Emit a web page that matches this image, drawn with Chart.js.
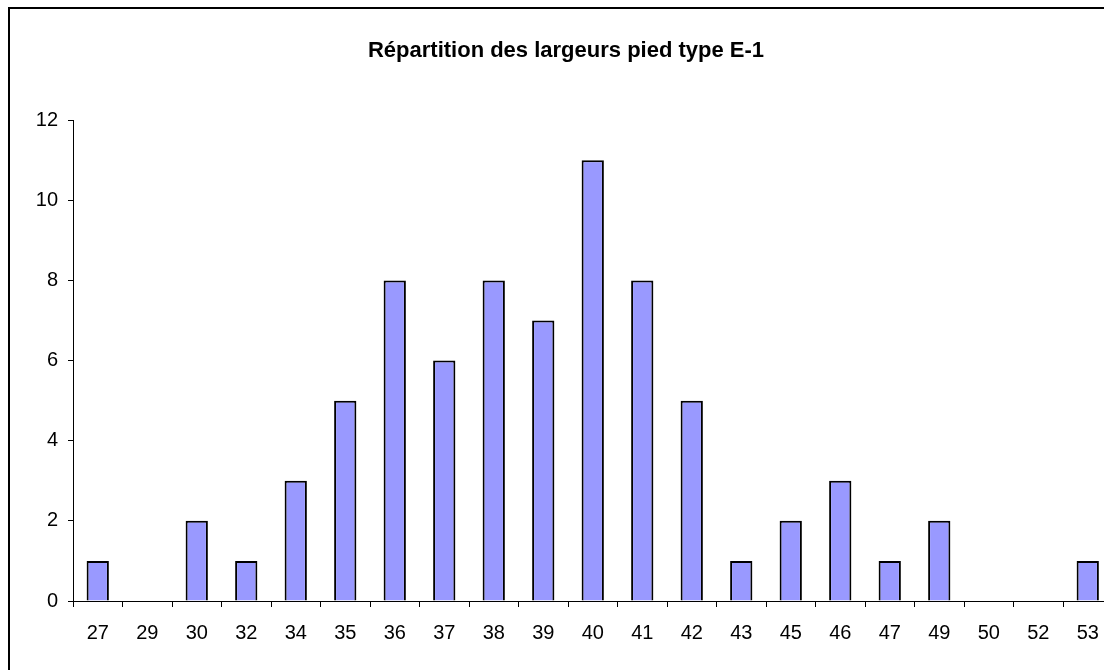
<!DOCTYPE html>
<html>
<head>
<meta charset="utf-8">
<script src="https://cdn.jsdelivr.net/npm/chart.js@4"></script>
<style>
  html, body { margin: 0; padding: 0; background: #fff; overflow: hidden; }
  #frame { position: absolute; left: 8px; top: 7px; width: 1200px; height: 800px; border: 2px solid #000; pointer-events: none; }
  #chart { position: absolute; left: 0; top: 0; }
</style>
</head>
<body>
<canvas id="chart" width="1132" height="670"></canvas>
<div id="frame"></div>
<script>
// Widths (categories) and counts
const widths = ['27', '29', '30', '32', '34', '35', '36', '37', '38', '39', '40', '41', '42', '43', '45', '46', '47', '49', '50', '52', '53'];
const counts = [1, 0, 2, 1, 3, 5, 8, 6, 8, 7, 11, 8, 5, 1, 2, 3, 1, 2, 0, 0, 1];
const chartTitle = 'Répartition des largeurs pied type E-1';

const fontFamily = '"Liberation Sans", Arial, sans-serif';

const ctx = document.getElementById('chart').getContext('2d');
new Chart(ctx, {
    type: 'bar',
    data: {
        labels: widths,
        datasets: [{
            data: counts,
            backgroundColor: '#9999ff',
            borderColor: '#000000',
            borderWidth: 2,
            barPercentage: 0.45,
            categoryPercentage: 1
        }]
    },
    options: {
        responsive: false,
        animation: false,
        layout: { padding: { left: 19.5, right: 19.5, top: 0, bottom: 11 } },
        plugins: {
            legend: { display: false },
            tooltip: { enabled: false },
            title: {
                display: true,
                text: chartTitle,
                color: '#000',
                font: { family: fontFamily, size: 22, weight: 'bold' },
                padding: { top: 38, bottom: 55.8 }
            }
        },
        scales: {
            x: {
                grid: { offset: true, drawOnChartArea: false, drawTicks: true, tickLength: 6, color: '#000' },
                border: { display: true, color: '#000', width: 1 },
                ticks: { color: '#000', font: { family: fontFamily, size: 20 }, padding: 14, maxRotation: 0, autoSkip: false }
            },
            y: {
                min: 0,
                max: 12,
                afterFit: (scale) => { scale.width = 53.5; },
                grid: { drawOnChartArea: false, drawTicks: true, tickLength: 5, color: '#000' },
                border: { display: true, color: '#000', width: 1 },
                ticks: { stepSize: 2, color: '#000', font: { family: fontFamily, size: 20 }, padding: 10 }
            }
        }
    }
});
</script>
</body>
</html>
